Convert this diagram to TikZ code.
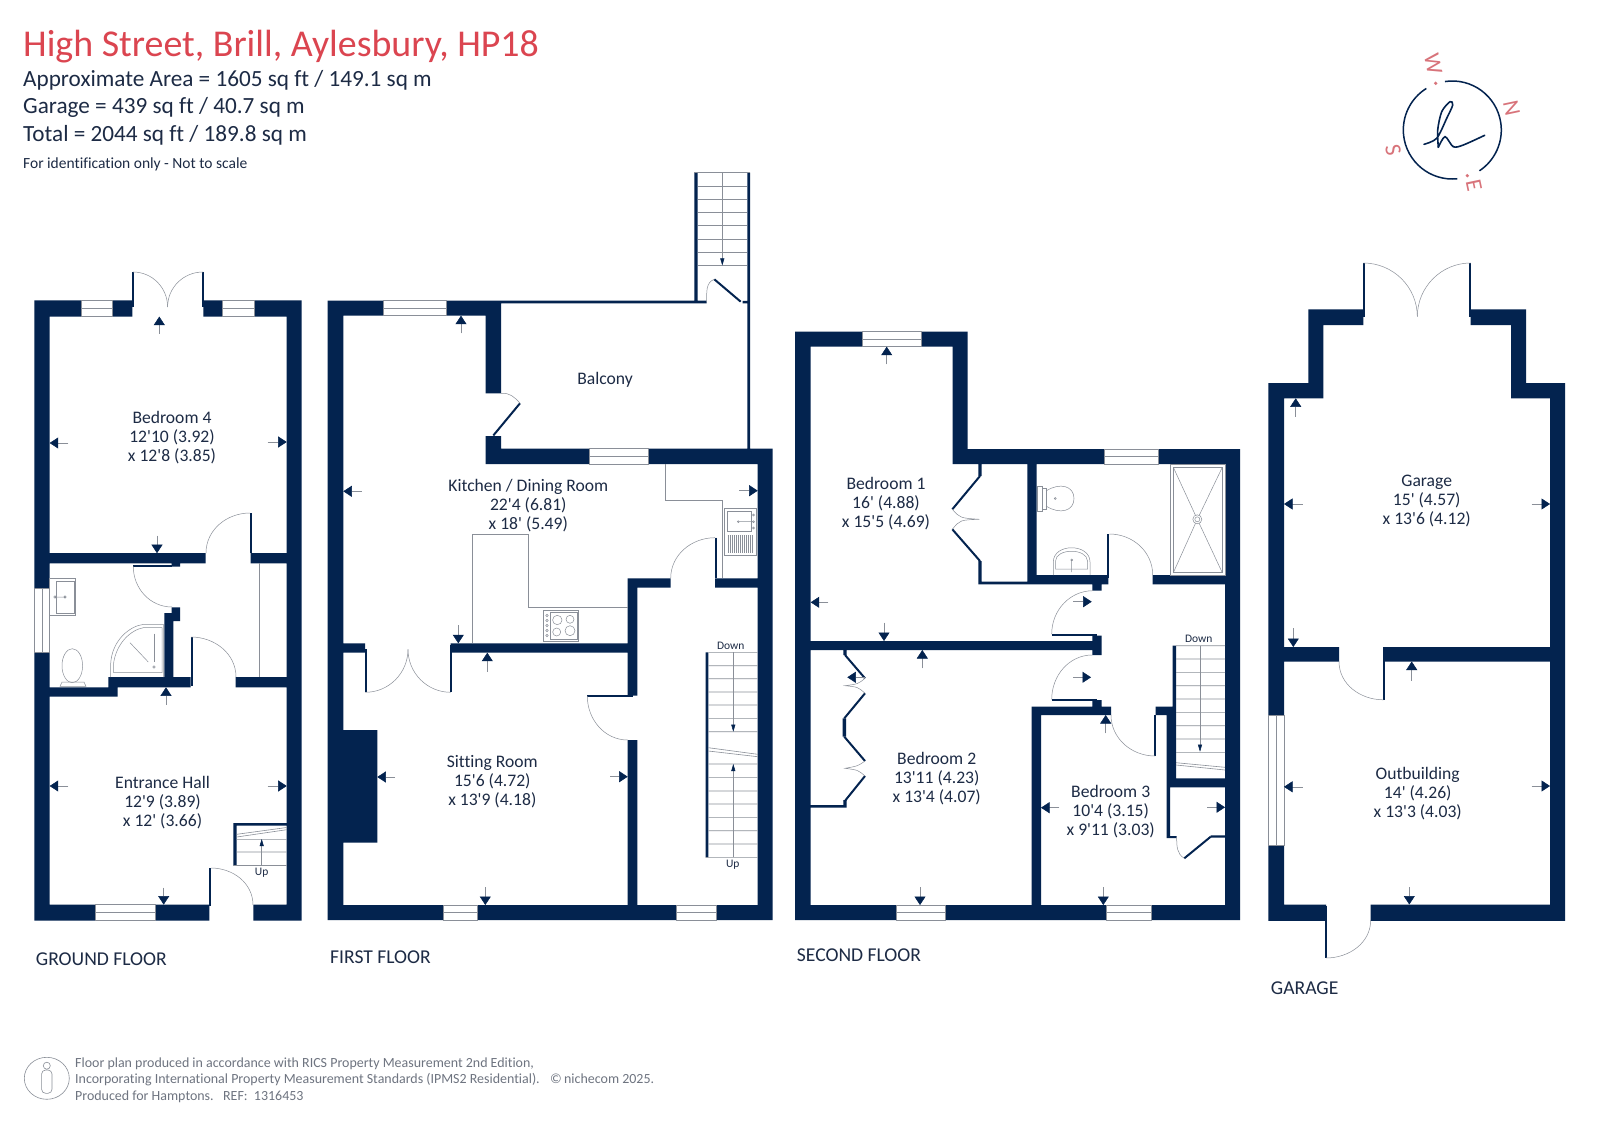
\documentclass[tikz,border=0pt]{standalone}
\usepackage{fontspec}
\setmainfont{Carlito}[Ligatures={TeXOff,CommonOff}]
\usetikzlibrary{arrows.meta}
\definecolor{wallblue}{HTML}{03234F}
\definecolor{titlered}{HTML}{DB4550}
\definecolor{logopink}{HTML}{D8737A}
\definecolor{inktext}{HTML}{1D2B45}
\definecolor{fixture}{HTML}{8A8F98}
\definecolor{footgray}{HTML}{6E7480}

\begin{document}
\begin{tikzpicture}[x=1pt, y=-1pt]
                \tikzstyle{wall} = [fill=wallblue]
                \tikzstyle{window} = [fill=white, draw=fixture, line width=0.5pt]
                \tikzstyle{leaf} = [draw=wallblue, line width=2pt]
                \tikzstyle{swing} = [draw=fixture, line width=0.5pt]
                \tikzstyle{fitting} = [draw=fixture, line width=0.5pt]
                \tikzstyle{tread} = [draw=fixture, line width=0.6pt]
                \tikzstyle{dimline} = [draw=fixture, line width=0.5pt, -{Triangle[length=8.5pt, width=11pt, color=wallblue, fill=wallblue]}]
                \tikzstyle{stairline} = [draw=fixture, line width=0.5pt, -{Triangle[length=7pt, width=4pt, color=wallblue, fill=wallblue]}]
                \tikzstyle{room} = [text=inktext, align=center, inner sep=0pt, yshift=-1.5pt, font=\fontsize{17.6}{19}\selectfont]
                \tikzstyle{floorname} = [text=inktext, anchor=base west, inner sep=0pt, font=\fontsize{19.6}{20}\selectfont]
                \tikzstyle{small} = [text=inktext, inner sep=0pt, font=\fontsize{11.5}{12}\selectfont]
                \tikzstyle{head} = [text=inktext, anchor=base west, inner sep=0pt, font=\fontsize{23.2}{26}\selectfont]
                \tikzstyle{foot} = [text=footgray, anchor=base west, inner sep=0pt, font=\fontsize{13.95}{15}\selectfont]
                \tikzstyle{compass} = [text=logopink, inner sep=0pt, font=\fontsize{23}{24}\selectfont]
                \useasboundingbox (0, 0) rectangle (1600, 1131);
                \fill[white] (0, 0) rectangle (1600, 1131);
                \node[anchor=base west, inner sep=0pt, text=titlered, font=\fontsize{37.9}{40}\selectfont] (title) at (23, 56.7) {High Street, Brill, Aylesbury, HP18};
                \node[head] (arealine) at (23, 86.7) {Approximate Area = 1605 sq ft / 149.1 sq m};
                \node[head] (garageline) at (23, 114) {Garage = 439 sq ft / 40.7 sq m};
                \node[head] (totalline) at (23, 141.7) {Total = 2044 sq ft / 189.8 sq m};
                \node[head, font=\fontsize{15.5}{16}\selectfont] (scaleline) at (23, 168.3) {For identification only - Not to scale};
                \fill[wall] (34.3, 300.5) rectangle (49.7, 920.6)
                    (286.7, 300.5) rectangle (301.7, 920.6)
                    (34.3, 300.5) rectangle (132.3, 316.6)
                    (203.3, 300.5) rectangle (301.7, 316.6)
                    (34.3, 904.6) rectangle (209.3, 920.6)
                    (253.3, 904.6) rectangle (301.7, 920.6)
                    (49.7, 553.2) rectangle (205.7, 563.3)
                    (250.7, 553.2) rectangle (286.7, 563.3)
                    (171.7, 563.3) rectangle (180, 566.5)
                    (171.7, 607.4) rectangle (180, 621)
                    (164.3, 613) rectangle (173.3, 686)
                    (108.3, 677.2) rectangle (190.7, 687.3)
                    (49.7, 687.3) rectangle (117.7, 696.5)
                    (235.7, 677.2) rectangle (286.7, 687.3)
                    (233.3, 823) rectangle (236.7, 865.5)
                    (233.3, 823) rectangle (286.7, 825.6);
                \draw[window] (81.7, 300.5) rectangle (112.7, 316.6);
                \draw[fitting] (81.7, 308.5) -- (112.7, 308.5);
                \draw[window] (222.7, 300.5) rectangle (254.3, 316.6);
                \draw[fitting] (222.7, 308.5) -- (254.3, 308.5);
                \draw[window] (34.3, 588.5) rectangle (49.7, 652);
                \draw[fitting] (42, 588.5) -- (42, 652);
                \draw[window] (95, 904.6) rectangle (155, 920.6);
                \draw[fitting] (95, 912.6) -- (155, 912.6);
                \draw[leaf] (133.3, 272) -- (133.3, 307);
                \draw[leaf] (202.8, 272) -- (202.8, 307);
                \draw[swing] (133, 272) to[out=0, in=90] (167.6, 307);
                \draw[swing] (203, 272) to[out=180, in=90] (167.6, 307);
                \draw[leaf] (250.7, 513) -- (250.7, 553.2);
                \draw[swing] (250, 513) to[out=180, in=90] (206, 553);
                \draw[leaf] (133.3, 565.5) -- (172, 565.5);
                \draw[swing] (133.3, 566.5) to[out=270, in=180] (172, 607);
                \draw[leaf] (191.7, 637) -- (191.7, 686);
                \draw[swing] (191, 637) to[out=0, in=90] (236, 677);
                \draw[leaf] (210, 868) -- (210, 906);
                \draw[swing] (211, 868) to[out=0, in=90] (253, 905);
                \draw[fitting] (259.3, 563.3) -- (259.3, 677.2);
                \draw[fitting] (49.7, 578.4) rectangle (75.7, 615.2);
                \draw[fitting] (56, 581.6) rectangle (74, 613);
                \draw[fitting] (55, 597) circle[radius=1.3] -- (65, 597) circle[radius=1.3];
                \draw[fitting] (72.3, 665.7) ellipse[x radius=10.3, y radius=17];
                \draw[fitting] (60, 686.4) -- (62, 682) -- (84, 682) -- (86, 686.4) -- cycle;
                \draw[fitting] (110.7, 677) -- (110.7, 663.4) .. controls (112, 640) and (130, 626) .. (143.3, 624.4) -- (163.3, 624.4) -- (163.3, 677);
                \draw[fitting] (113.5, 672.6) -- (113.5, 664) .. controls (116, 644) and (130, 630) .. (144, 627.5) -- (162, 627.5) -- (162, 672.6) -- cycle;
                \draw[fitting] (130, 642.7) -- (148.3, 662);
                \draw[fitting, line width=1pt] (154, 633.6) -- (154, 662);
                \draw[fitting] (154, 667) circle[radius=1.3];
                \draw[tread] (236.7, 839.4) -- (286.7, 839.4)
                    (236.7, 852) -- (286.7, 852)
                    (233.3, 865.5) -- (286.7, 865.5)
                    (236.7, 837) -- (286.7, 829.7)
                    (236.7, 834.3) -- (286.7, 827.5);
                \draw[stairline] (261.7, 865.5) -- (261.7, 839);
                \node[small] (upground) at (261.7, 872.4) {Up};
                \draw[dimline] (159.3, 333.6) -- (159.3, 316.6);
                \draw[dimline] (68.3, 443) -- (49.7, 443);
                \draw[dimline] (267.7, 442) -- (286.7, 442);
                \draw[dimline] (157, 535.7) -- (157, 553.2);
                \draw[dimline] (166, 704.8) -- (166, 687.3);
                \draw[dimline] (68.3, 786) -- (49.7, 786);
                \draw[dimline] (267.7, 786) -- (286.7, 786);
                \draw[dimline] (163.7, 887.6) -- (163.7, 904.6);
                \node[room] (bedroomfour) at (172, 436) {Bedroom 4\\12'10 (3.92)\\x 12'8 (3.85)};
                \node[room] (hallroom) at (162.5, 801) {Entrance Hall\\12'9 (3.89)\\x 12' (3.66)};
                \node[floorname] (groundname) at (35.7, 965) {GROUND FLOOR};
                \fill[wall] (327.7, 300.7) rectangle (343.3, 920)
                    (327.7, 300.7) rectangle (501, 315.7)
                    (485.7, 300.7) rectangle (501, 393.3)
                    (485.7, 436) rectangle (501, 464)
                    (485.7, 448.7) rectangle (772.7, 464)
                    (757.7, 448.7) rectangle (772.7, 920)
                    (327.7, 905) rectangle (772.7, 920)
                    (501, 300.7) rectangle (706.7, 303.3)
                    (747.3, 172.7) rectangle (750, 448.7)
                    (694.3, 172.7) rectangle (697.7, 303.3)
                    (742.5, 301) rectangle (750, 303.3)
                    (627.7, 578.3) rectangle (670.7, 587.7)
                    (715, 578.3) rectangle (757.7, 587.7)
                    (627.7, 578.3) rectangle (637.3, 695.5)
                    (627.7, 740) rectangle (637.3, 905)
                    (450.7, 643.3) rectangle (627.7, 652.7)
                    (343.3, 643.3) rectangle (365, 652.7)
                    (343.3, 730) rectangle (377.3, 842.7)
                    (705.7, 652.3) rectangle (708.3, 857.3);
                \draw[window] (383.7, 300.7) rectangle (446, 315.7);
                \draw[fitting] (383.7, 308.2) -- (446, 308.2);
                \draw[window] (589, 448.7) rectangle (648.3, 464);
                \draw[fitting] (589, 456.3) -- (648.3, 456.3);
                \draw[window] (443.3, 905) rectangle (477.3, 920);
                \draw[fitting] (443.3, 912.5) -- (477.3, 912.5);
                \draw[window] (676, 905) rectangle (716.7, 920);
                \draw[fitting] (676, 912.5) -- (716.7, 912.5);
                \draw[leaf] (493.3, 435.5) -- (520, 403.3);
                \draw[swing] (501, 393.3) to[out=5, in=130] (520, 403.3);
                \draw[leaf] (714.3, 279.3) -- (740.7, 301.7);
                \draw[swing] (706.7, 301.7) to[out=90, in=200] (714.3, 279.3);
                \draw[leaf] (716, 537.7) -- (716, 578.3);
                \draw[swing] (715, 537.7) to[out=180, in=90] (670.7, 578.3);
                \draw[leaf] (365.8, 649) -- (365.8, 692.3);
                \draw[leaf] (451, 645) -- (451, 692.3);
                \draw[swing] (365.3, 692.3) to[out=0, in=270] (408, 649.3);
                \draw[swing] (450.7, 692.3) to[out=180, in=270] (408, 649.3);
                \draw[leaf] (587.3, 696) -- (632.7, 696);
                \draw[swing] (587.3, 696) to[out=270, in=180] (627.7, 740);
                \draw[tread] (697.7, 186) -- (747.3, 186)
                    (697.7, 199) -- (747.3, 199)
                    (697.7, 212.3) -- (747.3, 212.3)
                    (697.7, 225.7) -- (747.3, 225.7)
                    (697.7, 239) -- (747.3, 239)
                    (697.7, 252.3) -- (747.3, 252.3)
                    (697.7, 265.7) -- (747.3, 265.7)
                    (694.3, 172.7) -- (750, 172.7);
                \draw[stairline] (722.3, 172.7) -- (722.3, 265.5);
                \draw[fitting] (665.7, 464) -- (665.7, 500.3) -- (722.3, 500.3) -- (722.3, 578.3);
                \draw[fitting] (472.3, 643.3) -- (472.3, 534) -- (528.7, 534) -- (528.7, 607.3) -- (627.7, 607.3);
                \draw[fitting] (724, 508.3) rectangle (756.7, 555.7);
                \draw[fitting] (727.3, 511) rectangle (751.7, 531);
                \draw[fitting] (738.3, 521.7) circle[radius=1] -- (753, 521.7);
                \draw[fitting] (753.5, 515) circle[radius=1] (753.5, 521.7) circle[radius=1] (753.5, 528) circle[radius=1];
                \draw[fixture, line width=17.7pt, dash pattern=on 0.6pt off 1.4pt] (727.5, 543.8) -- (752, 543.8);
                \draw[fitting] (543.3, 610.7) rectangle (578.7, 641);
                \draw[fitting] (550, 612.5) rectangle (577, 639);
                \draw[fitting] (557.3, 620) circle[radius=4.7] (570, 619.3) circle[radius=4];
                \draw[fitting] (556.7, 632) circle[radius=4] (570, 630.7) circle[radius=5];
                \draw[fitting] (547, 615.5) circle[radius=1.2] (547, 620.5) circle[radius=1.2] (547, 625.5) circle[radius=1.2] (547, 630.5) circle[radius=1.2] (547, 635.5) circle[radius=1.2];
                \draw[tread] (708.3, 652.3) -- (757.7, 652.3)
                    (708.3, 665.7) -- (757.7, 665.7)
                    (708.3, 678.7) -- (757.7, 678.7)
                    (708.3, 692) -- (757.7, 692)
                    (708.3, 705) -- (757.7, 705)
                    (708.3, 718.3) -- (757.7, 718.3)
                    (708.3, 731.7) -- (757.7, 731.7)
                    (708.3, 747.7) -- (757.7, 754.3)
                    (708.3, 751) -- (757.7, 756.7)
                    (708.3, 764) -- (757.7, 764)
                    (708.3, 777.3) -- (757.7, 777.3)
                    (708.3, 791) -- (757.7, 791)
                    (708.3, 804) -- (757.7, 804)
                    (708.3, 817.3) -- (757.7, 817.3)
                    (708.3, 830.7) -- (757.7, 830.7)
                    (708.3, 844) -- (757.7, 844)
                    (705.7, 857.3) -- (757.7, 857.3);
                \draw[stairline] (733.3, 652.3) -- (733.3, 731.7);
                \draw[stairline] (733.3, 857.3) -- (733.3, 764);
                \node[small] (downfirst) at (730.7, 645.7) {Down};
                \node[small] (upfirst) at (732.7, 864.3) {Up};
                \draw[dimline] (461, 333.3) -- (461, 315.7);
                \draw[dimline] (361.7, 491.3) -- (343.3, 491.3);
                \draw[dimline] (739.3, 490.7) -- (757.7, 490.7);
                \draw[dimline] (458.3, 625) -- (458.3, 643.3);
                \draw[dimline] (487.3, 671.7) -- (487.3, 652.7);
                \draw[dimline] (395, 777) -- (377.3, 777);
                \draw[dimline] (610, 776.7) -- (627.7, 776.7);
                \draw[dimline] (485.3, 887.3) -- (485.3, 905);
                \node[room] (balconyroom) at (605, 378.7) {Balcony};
                \node[room] (kitchenroom) at (528.3, 504.3) {Kitchen / Dining Room\\22'4 (6.81)\\x 18' (5.49)};
                \node[room] (sittingroom) at (492.3, 780) {Sitting Room\\15'6 (4.72)\\x 13'9 (4.18)};
                \node[floorname] (firstname) at (330, 963) {FIRST FLOOR};
                \fill[wall] (795, 331.7) rectangle (810.7, 920)
                    (795, 331.7) rectangle (967.7, 346.7)
                    (952.7, 331.7) rectangle (967.7, 464)
                    (952.7, 449) rectangle (1240, 464)
                    (1225, 449) rectangle (1240, 920)
                    (795, 905) rectangle (1240, 920)
                    (1027.3, 464) rectangle (1036.7, 584.3)
                    (978.3, 581.7) rectangle (1027.3, 584.3)
                    (978.3, 464) rectangle (981.7, 476)
                    (978.3, 561) rectangle (981.7, 584.3)
                    (1036.7, 575) rectangle (1108.3, 584.3)
                    (1152.7, 575) rectangle (1225, 584.3)
                    (1092.3, 584.3) rectangle (1101.7, 590.7)
                    (810.7, 641) rectangle (1101.7, 650)
                    (1092.3, 635.7) rectangle (1101.7, 655)
                    (1092.3, 700) rectangle (1101.7, 706.7)
                    (1031.7, 706.7) rectangle (1111, 715)
                    (1031.7, 706.7) rectangle (1041, 905)
                    (1155.7, 706.7) rectangle (1176, 715)
                    (1166.7, 706.7) rectangle (1176, 787.3)
                    (1172.7, 645.7) rectangle (1176, 778.3)
                    (1166.7, 778.3) rectangle (1225, 787.3)
                    (1166.7, 787.3) rectangle (1170, 838)
                    (1166.7, 836) rectangle (1176.7, 838)
                    (1210.7, 835.3) rectangle (1225, 837.7)
                    (810.7, 805) rectangle (846.7, 807.7)
                    (843.3, 800) rectangle (846.7, 807.7)
                    (843.3, 650) rectangle (846.7, 655)
                    (842.7, 718.3) rectangle (846, 736.7);
                \draw[window] (862.7, 331.7) rectangle (921.7, 346.7);
                \draw[fitting] (862.7, 339.2) -- (921.7, 339.2);
                \draw[window] (1104, 449) rectangle (1158.3, 464);
                \draw[fitting] (1104, 456.5) -- (1158.3, 456.5);
                \draw[window] (896, 905) rectangle (945.7, 920);
                \draw[fitting] (896, 912.5) -- (945.7, 912.5);
                \draw[window] (1106, 905) rectangle (1151.7, 920);
                \draw[fitting] (1106, 912.5) -- (1151.7, 912.5);
                \draw[leaf] (980, 476) -- (952.3, 509.3);
                \draw[leaf] (952.3, 529.3) -- (980, 561);
                \draw[swing] (952.3, 509.3) .. controls (960, 518) .. (979.3, 519.3) .. controls (960, 520) .. (952.3, 529.3);
                \draw[leaf] (845, 655) -- (865, 678.3);
                \draw[leaf] (865, 693.3) -- (844.3, 718.3);
                \draw[leaf] (844.3, 736.7) -- (865, 761);
                \draw[leaf] (865, 776) -- (844.3, 801.7);
                \draw[swing] (865, 678.3) .. controls (858, 684) .. (845, 685.7) .. controls (858, 687) .. (865, 693.3);
                \draw[swing] (865, 761) .. controls (858, 766) .. (845, 768.3) .. controls (858, 770) .. (865, 776);
                \draw[leaf] (1051.7, 635) -- (1096.7, 635);
                \draw[swing] (1093, 590.7) to[out=180, in=90] (1051.7, 634);
                \draw[leaf] (1051.7, 699.7) -- (1096.7, 699.7);
                \draw[swing] (1092.3, 655) to[out=180, in=90] (1051.7, 699.3);
                \draw[leaf] (1155.3, 715) -- (1155.3, 756);
                \draw[swing] (1111, 715) to[out=270, in=180] (1155, 756);
                \draw[leaf] (1108.3, 534) -- (1108.3, 578);
                \draw[swing] (1109.3, 534) to[out=0, in=90] (1152.7, 575);
                \draw[leaf] (1184.3, 858.3) -- (1210.7, 836.7);
                \draw[swing] (1176.7, 837.3) to[out=270, in=150] (1184.3, 858.3);
                \draw[fitting] (1170.7, 464) rectangle (1225, 575);
                \draw[fitting] (1173.3, 467.3) rectangle (1222.3, 572.7);
                \draw[fitting] (1173.3, 467.3) -- (1197.3, 519.3) -- (1222.3, 467.3);
                \draw[fitting] (1173.3, 572.7) -- (1197.3, 519.3) -- (1222.3, 572.7);
                \draw[draw=fixture, fill=white, line width=0.5pt] (1197.3, 519.3) circle[radius=4.5];
                \draw[fitting] (1197.3, 519.3) circle[radius=2.5];
                \draw[fitting] (1042, 486) rectangle (1037.3, 511.7);
                \draw[fitting] (1042, 488) -- (1046, 488) -- (1046, 509) -- (1042, 509);
                \draw[fitting] (1046, 491) .. controls (1060, 482) and (1074, 486) .. (1074, 498.5) .. controls (1074, 511) and (1060, 515) .. (1046, 506);
                \draw[fitting] (1055.3, 498.5) circle[radius=1];
                \draw[fitting] (1053.3, 575) -- (1053.3, 562) .. controls (1053.3, 543) and (1090, 543) .. (1090, 562) -- (1090, 575);
                \draw[fitting] (1055.5, 569) -- (1055.5, 561) .. controls (1056, 548) and (1087, 548) .. (1087.5, 561) -- (1087.5, 569) -- cycle;
                \draw[fitting] (1071.7, 560) circle[radius=1] -- (1071.7, 572);
                \draw[tread] (1176, 645.7) -- (1225, 645.7)
                    (1176, 659) -- (1225, 659)
                    (1176, 672.3) -- (1225, 672.3)
                    (1176, 685.7) -- (1225, 685.7)
                    (1176, 699) -- (1225, 699)
                    (1176, 712.3) -- (1225, 712.3)
                    (1176, 725.7) -- (1225, 725.7)
                    (1176, 739) -- (1225, 739)
                    (1176, 752.3) -- (1225, 752.3)
                    (1176, 762.7) -- (1225, 767.3)
                    (1176, 765) -- (1225, 770);
                \draw[stairline] (1200, 645.7) -- (1200, 751.7);
                \node[small] (downsecond) at (1198.7, 639) {Down};
                \draw[dimline] (886.7, 364.3) -- (886.7, 346.7);
                \draw[dimline] (828.3, 602.3) -- (810.7, 602.3);
                \draw[dimline] (884, 622.7) -- (884, 641);
                \draw[dimline] (1073.3, 601.7) -- (1091.7, 601.7);
                \draw[dimline] (922.3, 668.3) -- (922.3, 650);
                \draw[dimline] (865, 677.3) -- (847.3, 677.3);
                \draw[dimline] (1073.3, 677.3) -- (1091, 677.3);
                \draw[dimline] (920, 887.3) -- (920, 905);
                \draw[dimline] (1105.7, 733.3) -- (1105.7, 715);
                \draw[dimline] (1059.3, 807.7) -- (1041, 807.7);
                \draw[dimline] (1207.3, 807.3) -- (1225, 807.3);
                \draw[dimline] (1103.3, 887.3) -- (1103.3, 905);
                \node[room] (bedroomone) at (886, 502.3) {Bedroom 1\\16' (4.88)\\x 15'5 (4.69)};
                \node[room] (bedroomtwo) at (936.7, 776.7) {Bedroom 2\\13'11 (4.23)\\x 13'4 (4.07)};
                \node[room] (bedroomthree) at (1110.7, 810) {Bedroom 3\\10'4 (3.15)\\x 9'11 (3.03)};
                \node[floorname] (secondname) at (796.7, 961) {SECOND FLOOR};
                \fill[wall] (1268.3, 383) rectangle (1284, 920.8)
                    (1268.3, 383) rectangle (1323.3, 398.3)
                    (1308.3, 309.3) rectangle (1323.3, 398.3)
                    (1308.3, 309.3) rectangle (1363.3, 325.1)
                    (1470.7, 309.3) rectangle (1526, 325.1)
                    (1511, 309.3) rectangle (1526, 398.3)
                    (1511, 383) rectangle (1565, 398.3)
                    (1550, 383) rectangle (1565, 920.8)
                    (1284, 647) rectangle (1339, 661.5)
                    (1383.3, 647) rectangle (1550, 661.5)
                    (1268.3, 904.5) rectangle (1326, 920.8)
                    (1370.7, 904.5) rectangle (1565, 920.8);
                \draw[window] (1268.3, 715) rectangle (1284, 845.7);
                \draw[fitting] (1276, 715) -- (1276, 845.7);
                \draw[leaf] (1364, 263) -- (1364, 317);
                \draw[leaf] (1470, 263) -- (1470, 317);
                \draw[swing] (1363.3, 263) to[out=0, in=90] (1417.3, 316.7);
                \draw[swing] (1470.7, 263) to[out=180, in=90] (1417.3, 316.7);
                \draw[leaf] (1384, 647) -- (1384, 699.8);
                \draw[swing] (1339, 661.5) to[out=270, in=180] (1383.3, 699.8);
                \draw[leaf] (1326.3, 905.5) -- (1326.3, 958);
                \draw[swing] (1326, 958) to[out=0, in=270] (1370.7, 920);
                \draw[dimline] (1295.7, 416.5) -- (1295.7, 398.3);
                \draw[dimline] (1302.7, 504) -- (1284, 504);
                \draw[dimline] (1531.7, 504) -- (1550, 504);
                \draw[dimline] (1293.3, 628) -- (1293.3, 647);
                \draw[dimline] (1411.7, 680.6) -- (1411.7, 661.5);
                \draw[dimline] (1302.7, 786.8) -- (1284, 786.8);
                \draw[dimline] (1531.7, 786) -- (1550, 786);
                \draw[dimline] (1409.3, 887.3) -- (1409.3, 904.5);
                \node[room] (garageroom) at (1426.7, 499.8) {Garage\\15' (4.57)\\x 13'6 (4.12)};
                \node[room] (outbuilding) at (1417.7, 792.6) {Outbuilding\\14' (4.26)\\x 13'3 (4.03)};
                \node[floorname] (garagename) at (1270.7, 994) {GARAGE};
                \draw[wallblue, line width=1.5pt] (1452.3, 130) ++(261.4:49) arc[start angle=261.4, end angle=416.4, radius=49];
                \draw[wallblue, line width=1.5pt] (1452.3, 130) ++(84.2:49) arc[start angle=84.2, end angle=238, radius=49];
                \draw[wallblue, line width=1.6pt, line cap=round] plot[smooth] coordinates {(1424, 144.3) (1436.7, 138.3) (1446.7, 118.3) (1452.7, 105) (1450, 101.7) (1441.7, 111.7) (1437.7, 130) (1438.3, 147.3)};
                \draw[wallblue, line width=1.6pt, line cap=round] plot[smooth] coordinates {(1438.3, 147.3) (1445, 136.7) (1453.3, 146.7) (1463.3, 145) (1484.7, 135.3)};
                \fill[logopink] (1435.7, 83.3) circle[radius=1.8];
                \fill[logopink] (1467.3, 175.7) circle[radius=1.8];
                \node[compass, rotate=-78] (compassn) at (1511.7, 108.3) {N};
                \node[compass, rotate=-78] (compassw) at (1433.3, 64) {W};
                \node[compass, rotate=-78] (compasss) at (1393.3, 150) {S};
                \node[compass, rotate=-78] (compasse) at (1474, 185.7) {E};
                \draw[fixture, line width=0.6pt] (46.8, 1078.3) ellipse[x radius=22.5, y radius=21];
                \draw[fixture, line width=0.6pt] (46.8, 1065.7) circle[radius=3.5];
                \draw[fixture, line width=0.6pt, rounded corners=4pt] (41.6, 1070) rectangle (52, 1093.3);
                \node[foot] (footone) at (75, 1067) {Floor plan produced in accordance with RICS Property Measurement 2nd Edition,};
                \node[foot] (foottwo) at (75, 1083.5) {Incorporating International Property Measurement Standards (IPMS2 Residential).};
                \node[foot] (footthree) at (75, 1100) {Produced for Hamptons.\ \ \ REF:\ \ 1316453};
                \node[foot] (footmark) at (550, 1083.5) {©\,nichecom 2025.};
            \end{tikzpicture}
\end{document}
